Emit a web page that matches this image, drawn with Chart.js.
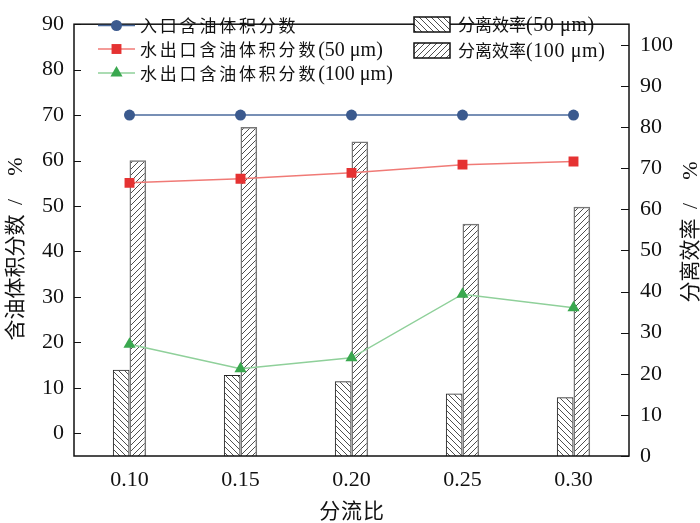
<!DOCTYPE html>
<html>
<head>
<meta charset="utf-8">
<script src="https://cdn.jsdelivr.net/npm/chart.js@4.4.1/dist/chart.umd.min.js"></script>
<style>
  html, body { margin: 0; padding: 0; background: #fff; }
  canvas { display: block; }
</style>
</head>
<body>
<canvas id="chart" width="700" height="523"></canvas>
<script>
var categories = ['0.10', '0.15', '0.20', '0.25', '0.30'];
var inletOil = [70, 70, 70, 70, 70];
var outletOil50 = [55.1, 56.0, 57.3, 59.1, 59.8];
var outletOil100 = [19.6, 14.2, 16.6, 30.6, 27.6];
var efficiency50 = [21.0, 19.7, 18.2, 15.2, 14.3];
var efficiency100 = [71.9, 80.0, 76.5, 56.5, 60.6];
var leftTicks = [0, 10, 20, 30, 40, 50, 60, 70, 80, 90];
var rightTicks = [0, 10, 20, 30, 40, 50, 60, 70, 80, 90, 100];

var FONT = '"Liberation Serif", "Noto Sans CJK SC", serif';
var SERIF = '"Liberation Serif", serif';
var CJK = '"Noto Sans CJK SC", sans-serif';

function makeHatch(ctx, forward) {
    var c = document.createElement('canvas');
    c.width = 6;
    c.height = 6;
    var g = c.getContext('2d');
    g.strokeStyle = '#222';
    g.lineWidth = 0.8;
    g.beginPath();
    if (forward) {
        g.moveTo(0, 6); g.lineTo(6, 0);
        g.moveTo(-1, 1); g.lineTo(1, -1);
        g.moveTo(5, 7); g.lineTo(7, 5);
    } else {
        g.moveTo(0, 0); g.lineTo(6, 6);
        g.moveTo(-1, 5); g.lineTo(1, 7);
        g.moveTo(5, -1); g.lineTo(7, 1);
    }
    g.stroke();
    return ctx.createPattern(c, 'repeat');
}

function drawMarker(c, style, x, y, r, color) {
    c.save();
    c.fillStyle = color;
    c.beginPath();
    if (style === 'circle') {
        c.arc(x, y, r, 0, Math.PI * 2);
    } else if (style === 'rect') {
        var s = Math.SQRT1_2 * r;
        c.rect(x - s, y - s, 2 * s, 2 * s);
    } else {
        c.moveTo(x, y - r);
        c.lineTo(x + r * Math.sin(Math.PI / 3), y + r / 2);
        c.lineTo(x - r * Math.sin(Math.PI / 3), y + r / 2);
        c.closePath();
    }
    c.fill();
    c.restore();
}

// draws text runs (mixed CJK / latin) on one shared baseline; y is the visual middle
function drawRuns(c, runs, x, y, align, size) {
    var widths = runs.map(function (r) {
        c.font = r.font;
        c.letterSpacing = r.spacing || '0px';
        return c.measureText(r.text).width;
    });
    var total = widths.reduce(function (a, b) { return a + b; }, 0);
    var px = align === 'center' ? x - total / 2 : x;
    var base = y + 0.35 * size;
    c.textAlign = 'left';
    c.textBaseline = 'alphabetic';
    runs.forEach(function (r, i) {
        c.font = r.font;
        c.letterSpacing = r.spacing || '0px';
        c.fillText(r.text, px, base);
        px += widths[i];
    });
    c.letterSpacing = '0px';
}

function splitLabel(label) {
    var k = label.indexOf('(');
    return k < 0 ? [label, ''] : [label.slice(0, k), label.slice(k)];
}

var framePlugin = {
    id: 'frame',
    afterDraw: function (chart) {
        var c = chart.ctx;
        var a = chart.chartArea;
        var yl = chart.scales.y;
        var yr = chart.scales.y2;
        c.save();
        c.strokeStyle = '#111';
        c.lineWidth = 1.5;
        c.strokeRect(a.left, a.top, a.right - a.left, a.bottom - a.top);
        c.beginPath();
        leftTicks.forEach(function (v) {
            var py = Math.round(yl.getPixelForValue(v)) + 0.5;
            c.moveTo(a.left, py); c.lineTo(a.left + 7, py);
        });
        rightTicks.forEach(function (v) {
            var py = Math.round(yr.getPixelForValue(v)) + 0.5;
            c.moveTo(a.right, py); c.lineTo(a.right - 8, py);
        });
        c.lineWidth = 1.2;
        c.stroke();

        // axis titles
        c.fillStyle = '#111';
        drawRuns(c, [{ text: '分流比', font: '21px ' + CJK, spacing: '0.8px' }], 352, 511, 'center', 21);
        c.save();
        c.translate(15, 247);
        c.rotate(-Math.PI / 2);
        drawRuns(c, [
            { text: '含油体积分数', font: '21px ' + CJK },
            { text: ' /  %', font: '22px ' + SERIF, spacing: '4px' }
        ], 0, 0, 'center', 21);
        c.restore();
        c.save();
        c.translate(690, 230);
        c.rotate(-Math.PI / 2);
        drawRuns(c, [
            { text: '分离效率', font: '21px ' + CJK },
            { text: ' /  %', font: '22px ' + SERIF, spacing: '4px' }
        ], 0, 0, 'center', 21);
        c.restore();

        // legends
        var lineRows = [25.5, 49, 73];
        var bars = [];
        var li = 0;
        chart.data.datasets.forEach(function (ds) {
            if (ds.type === 'line') {
                var ry = lineRows[li++];
                c.strokeStyle = ds.borderColor;
                c.lineWidth = 1.5;
                c.beginPath();
                c.moveTo(98, ry); c.lineTo(135, ry);
                c.stroke();
                drawMarker(c, ds.pointStyle, 116.5, ry, ds.pointRadius, ds.pointBackgroundColor);
                var parts = splitLabel(ds.label);
                c.fillStyle = '#111';
                drawRuns(c, [
                    { text: parts[0], font: '17px ' + CJK, spacing: '2.8px' },
                    { text: parts[1], font: '20px ' + SERIF }
                ], 140, ry, 'left', 19);
            } else {
                bars.push(ds);
            }
        });
        var barRows = [24.5, 50.5];
        bars.forEach(function (ds, i) {
            var ry = barRows[i];
            c.fillStyle = '#fff';
            c.fillRect(414, ry - 7.5, 36, 15);
            c.fillStyle = ds.backgroundColor;
            c.fillRect(414, ry - 7.5, 36, 15);
            c.strokeStyle = '#111';
            c.lineWidth = 1.5;
            c.strokeRect(414, ry - 7.5, 36, 15);
            var parts = splitLabel(ds.label);
            c.fillStyle = '#111';
            drawRuns(c, [
                { text: parts[0], font: '17px ' + CJK },
                { text: parts[1], font: '20px ' + SERIF, spacing: '0.6px' }
            ], 458, ry, 'left', 19);
        });
        c.restore();
    }
};

function makeChart() {
    var canvas = document.getElementById('chart');
    var ctx = canvas.getContext('2d');
    var hatchBack = makeHatch(ctx, false);
    var hatchFwd = makeHatch(ctx, true);

    new Chart(canvas, {
        type: 'bar',
        data: {
            labels: categories,
            datasets: [
                {
                    type: 'line',
                    label: '入口含油体积分数',
                    data: inletOil,
                    yAxisID: 'y',
                    borderColor: '#4a6a9c',
                    borderWidth: 1.5,
                    pointStyle: 'circle',
                    pointRadius: 5.5,
                    pointBackgroundColor: '#3b5a8e',
                    pointBorderWidth: 0
                },
                {
                    type: 'line',
                    label: '水出口含油体积分数(50 μm)',
                    data: outletOil50,
                    yAxisID: 'y',
                    borderColor: '#f07a76',
                    borderWidth: 1.5,
                    pointStyle: 'rect',
                    pointRadius: 7,
                    pointBackgroundColor: '#e53232',
                    pointBorderWidth: 0
                },
                {
                    type: 'line',
                    label: '水出口含油体积分数(100 μm)',
                    data: outletOil100,
                    yAxisID: 'y',
                    borderColor: '#8fd09a',
                    borderWidth: 1.5,
                    pointStyle: 'triangle',
                    pointRadius: 7,
                    pointBackgroundColor: '#3aa84f',
                    pointBorderWidth: 0
                },
                {
                    label: '分离效率(50 μm)',
                    data: efficiency50,
                    yAxisID: 'y2',
                    backgroundColor: hatchBack,
                    borderColor: '#222',
                    borderWidth: 1,
                    categoryPercentage: 0.3,
                    barPercentage: 1
                },
                {
                    label: '分离效率(100 μm)',
                    data: efficiency100,
                    yAxisID: 'y2',
                    backgroundColor: hatchFwd,
                    borderColor: '#777',
                    borderWidth: 1.5,
                    categoryPercentage: 0.3,
                    barPercentage: 1
                }
            ]
        },
        options: {
            responsive: false,
            maintainAspectRatio: false,
            devicePixelRatio: 1,
            animation: false,
            layout: { padding: { top: 8 } },
            plugins: {
                legend: { display: false },
                tooltip: { enabled: false }
            },
            scales: {
                x: {
                    offset: true,
                    grid: { display: false, drawTicks: false },
                    border: { display: false },
                    ticks: { color: '#111', font: { family: FONT, size: 22 }, padding: 11 },
                    afterFit: function (s) { s.height = 67; }
                },
                y: {
                    position: 'left',
                    min: -5,
                    max: 90,
                    grid: { display: false, drawTicks: false },
                    border: { display: false },
                    ticks: { color: '#111', font: { family: FONT, size: 22 }, padding: 10 },
                    afterBuildTicks: function (s) {
                        s.ticks = leftTicks.map(function (v) { return { value: v }; });
                    },
                    afterFit: function (s) { s.width = 74; }
                },
                y2: {
                    position: 'right',
                    min: 0,
                    max: 105,
                    grid: { display: false, drawTicks: false },
                    border: { display: false },
                    ticks: { color: '#111', font: { family: FONT, size: 22 }, padding: 11 },
                    afterBuildTicks: function (s) {
                        s.ticks = rightTicks.map(function (v) { return { value: v }; });
                    },
                    afterFit: function (s) { s.width = 71; }
                }
            }
        },
        plugins: [framePlugin]
    });
}

Promise.all([
    document.fonts.load('22px "Liberation Serif"', '0123456789.'),
    document.fonts.load('20px "Liberation Serif"', '(μm)/%'),
    document.fonts.load('21px "Noto Sans CJK SC"', '含油体积分数流比离效率入口水出')
]).then(makeChart, makeChart);
</script>
</body>
</html>
